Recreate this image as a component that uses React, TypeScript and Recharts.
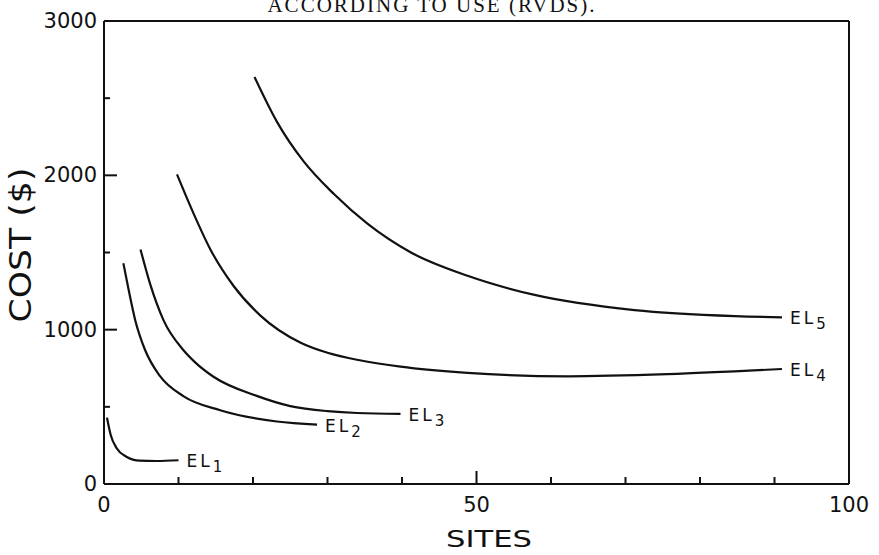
import { LineChart, Line, XAxis, YAxis } from "recharts"

// values (sites, cost in $)
const el1Sites = [0.4, 0.9, 1.7, 3.0, 4.8, 7.0, 10.0]
const el1Cost = [430, 318, 232, 177, 151, 149, 154]

const el2Sites = [2.6, 3.3, 4.2, 5.5, 7.5, 10.7, 15.6, 23.2, 28.6]
const el2Cost = [1430, 1260, 1060, 870, 700, 568, 478, 405, 385]

const el3Sites = [4.9, 6.2, 8.0, 10.7, 12.2, 14.7, 20.5, 25, 30, 34, 39.8]
const el3Cost = [1520, 1295, 1060, 865, 790, 695, 571, 505, 472, 460, 455]

const el4Sites = [9.8, 12.0, 14.3, 17.4, 21.0, 26.4, 30, 34.5, 39.8, 48.8, 62.3, 75.7, 91]
const el4Cost = [2006, 1755, 1518, 1283, 1091, 915, 850, 800, 760, 720, 698, 712, 745]

const el5Sites = [20.2, 23.2, 26.8, 30.9, 35.4, 41.2, 48.8, 57.8, 71.2, 84.7, 91]
const el5Cost = [2637, 2348, 2090, 1877, 1685, 1500, 1349, 1225, 1127, 1088, 1080]

const seriesNames = ["1", "2", "3", "4", "5"]

const xTicks = [0, 10, 20, 30, 40, 50, 60, 70, 80, 90, 100]
const yTicks = [0, 500, 1000, 1500, 2000, 2500, 3000]

const FONT = "'DejaVu Sans', sans-serif"
const INK = "#111"

const toPoints = (sites: number[], cost: number[]) =>
  sites.map((s, i) => ({ sites: s, cost: cost[i] }))

const series = [
  toPoints(el1Sites, el1Cost),
  toPoints(el2Sites, el2Cost),
  toPoints(el3Sites, el3Cost),
  toPoints(el4Sites, el4Cost),
  toPoints(el5Sites, el5Cost),
]

function BottomTick({ x, y, payload }: any) {
  const v = payload.value
  const major = v % 50 === 0
  return (
    <g>
      <line x1={x} x2={x} y1={y} y2={y - (major ? 13 : 7)} stroke={INK} strokeWidth={2} />
      {major && (
        <text x={x} y={y + 28} textAnchor="middle" fontFamily={FONT} fontSize={21} fill={INK}>
          {v}
        </text>
      )}
    </g>
  )
}

function TopTick({ x, y, payload }: any) {
  const major = payload.value % 50 === 0
  return <line x1={x} x2={x} y1={y} y2={y + (major ? 13 : 7)} stroke={INK} strokeWidth={2} />
}

function LeftTick({ x, y, payload }: any) {
  const v = payload.value
  const major = v % 1000 === 0
  return (
    <g>
      <line x1={x} x2={x + (major ? 13 : 6)} y1={y} y2={y} stroke={INK} strokeWidth={2} />
      {major && (
        <text x={x - 7} y={y + 7} textAnchor="end" fontFamily={FONT} fontSize={21} fill={INK}>
          {v}
        </text>
      )}
    </g>
  )
}

function RightTick({ x, y, payload }: any) {
  const major = payload.value % 1000 === 0
  return <line x1={x} x2={x - (major ? 13 : 6)} y1={y} y2={y} stroke={INK} strokeWidth={2} />
}

function endLabel(name: string, last: number) {
  return (props: any) => {
    if (props.index !== last) return null
    return (
      <text x={props.x + 8} y={props.y + 7} fontFamily={FONT} fontSize={17} fill={INK} letterSpacing={3}>
        EL
        <tspan fontSize={15} dy={5}>
          {name}
        </tspan>
      </text>
    )
  }
}

export default function App() {
  return (
    <div style={{ position: "absolute", left: 0, top: 0, width: 879, height: 555, background: "#fff" }}>
      <LineChart
        width={879}
        height={555}
        margin={{ top: 20, right: 29, bottom: 70, left: 103 }}
      >
        <XAxis
          type="number"
          dataKey="sites"
          domain={[0, 100]}
          ticks={xTicks}
          interval={0}
          height={1}
          tickSize={0}
          tickMargin={0}
          tickLine={false}
          tick={<BottomTick />}
          axisLine={{ stroke: INK, strokeWidth: 2 }}
        />
        <XAxis
          xAxisId="top"
          orientation="top"
          type="number"
          dataKey="sites"
          domain={[0, 100]}
          ticks={xTicks}
          interval={0}
          height={1}
          tickSize={0}
          tickMargin={0}
          tickLine={false}
          tick={<TopTick />}
          axisLine={{ stroke: INK, strokeWidth: 2 }}
        />
        <YAxis
          type="number"
          domain={[0, 3000]}
          ticks={yTicks}
          interval={0}
          width={1}
          tickSize={0}
          tickMargin={0}
          tickLine={false}
          tick={<LeftTick />}
          axisLine={{ stroke: INK, strokeWidth: 2 }}
        />
        <YAxis
          yAxisId="right"
          orientation="right"
          type="number"
          domain={[0, 3000]}
          ticks={yTicks}
          interval={0}
          width={1}
          tickSize={0}
          tickMargin={0}
          tickLine={false}
          tick={<RightTick />}
          axisLine={{ stroke: INK, strokeWidth: 2 }}
        />
        {series.map((data, i) => (
          <Line
            key={seriesNames[i]}
            data={data}
            dataKey="cost"
            type="monotone"
            stroke={INK}
            strokeWidth={2.2}
            dot={false}
            activeDot={false}
            isAnimationActive={false}
            label={endLabel(seriesNames[i], data.length - 1)}
          />
        ))}
      </LineChart>
      <svg
        width={879}
        height={555}
        style={{ position: "absolute", left: 0, top: 0, pointerEvents: "none" }}
      >
        <text
          x={432}
          y={12}
          textAnchor="middle"
          fontFamily="'Liberation Serif', serif"
          fontSize={21}
          letterSpacing={2}
          fill={INK}
        >
          ACCORDING TO USE (RVDS).
        </text>
        <text
          x={489}
          y={547}
          textAnchor="middle"
          fontFamily={FONT}
          fontSize={23}
          textLength={86}
          lengthAdjust="spacingAndGlyphs"
          fill={INK}
        >
          SITES
        </text>
        <text
          transform="translate(31 245) rotate(-90)"
          textAnchor="middle"
          fontFamily={FONT}
          fontSize={30}
          textLength={155}
          lengthAdjust="spacingAndGlyphs"
          fill={INK}
        >
          COST ($)
        </text>
      </svg>
    </div>
  )
}
